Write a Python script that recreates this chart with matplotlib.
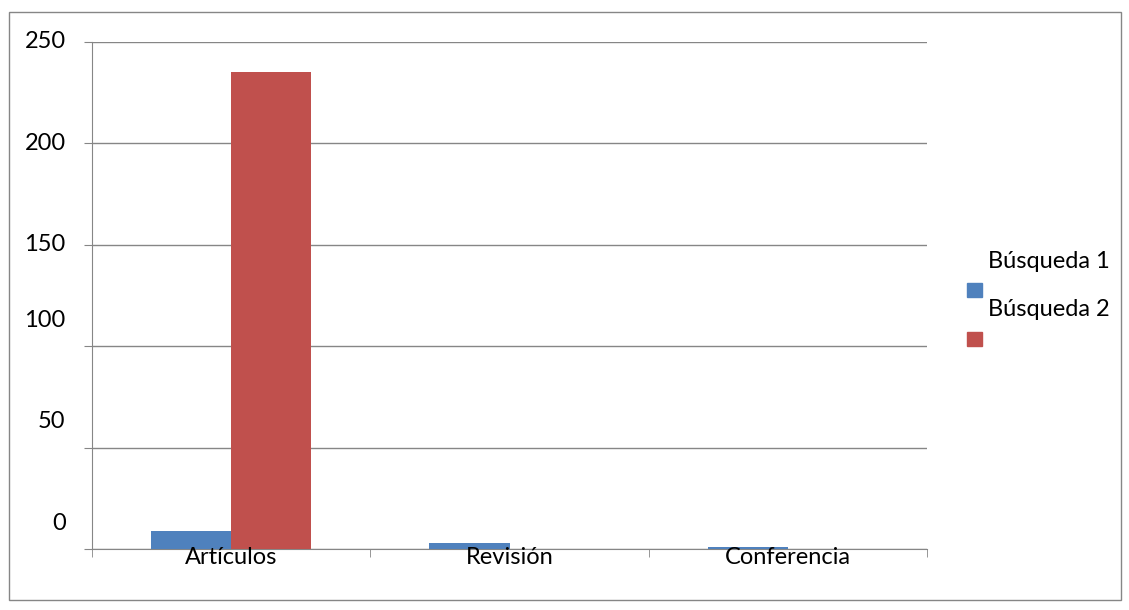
import matplotlib
matplotlib.use("Agg")
import matplotlib.pyplot as plt
import numpy as np
from matplotlib.patches import Rectangle
from matplotlib.transforms import ScaledTranslation

categories = ["Artículos", "Revisión", "Conferencia"]
series_names = ["Búsqueda 1", "Búsqueda 2"]
busqueda1 = [9, 3, 1]
busqueda2 = [235, 0, 0]
colors = ["#4F81BD", "#C0504D"]
yticks = [0, 50, 100, 150, 200, 250]

plt.rcParams['font.family'] = ['Lato', 'DejaVu Sans']
grey = "#868686"
fs = 17

fig = plt.figure(figsize=(11.29, 6.10), dpi=100)
ax = fig.add_axes([92/1129, 61/610, 835/1129, 507/610])

x = np.arange(len(categories))
w = 0.288
ax.bar(x - w/2, busqueda1, w, color=colors[0], zorder=3)
ax.bar(x + w/2, busqueda2, w, color=colors[1], zorder=3)

ax.set_xlim(-0.5, len(categories) - 0.5)
ax.set_ylim(0, 250)
ax.set_yticks(yticks)
ax.set_yticklabels([str(v) for v in yticks], fontsize=fs)
ax.yaxis.grid(True, color=grey, linewidth=1, zorder=0)
ax.set_axisbelow(True)

# categorias
ax.set_xticks(x)
ax.set_xticklabels(categories, fontsize=fs)
ax.set_xticks(np.arange(len(categories) + 1) - 0.5, minor=True)
ax.tick_params(axis='x', which='major', length=0, pad=-1.5)
ax.tick_params(axis='x', which='minor', length=6, color=grey, direction='out')
ax.tick_params(axis='y', length=6, color=grey, pad=13)
ax.xaxis.set_zorder(5)

for s in ['top', 'right']:
    ax.spines[s].set_visible(False)
for s in ['left', 'bottom']:
    ax.spines[s].set_color(grey)

# etiquetas del eje y desplazadas como en el original
for lab, v in zip(ax.get_yticklabels(), yticks):
    dy = 28 if v < 150 else 2
    lab.set_transform(lab.get_transform() + ScaledTranslation(0, dy/100, fig.dpi_scale_trans))

# leyenda manual
for i, (name, c) in enumerate(zip(series_names, colors)):
    y0 = (610 - 297 - i*49) / 610
    fig.patches.append(Rectangle((967/1129, y0), 15/1129, 14/610, color=c,
                                 transform=fig.transFigure, figure=fig))
    fig.text(988/1129, y0 + 36/610, name, fontsize=fs, va='center', ha='left')

# marco exterior
fig.patches.append(Rectangle((9/1129, 10/610), 1112/1129, 588/610, fill=False,
                             edgecolor=grey, linewidth=1,
                             transform=fig.transFigure, figure=fig))

fig.savefig("out.png", dpi=100)
